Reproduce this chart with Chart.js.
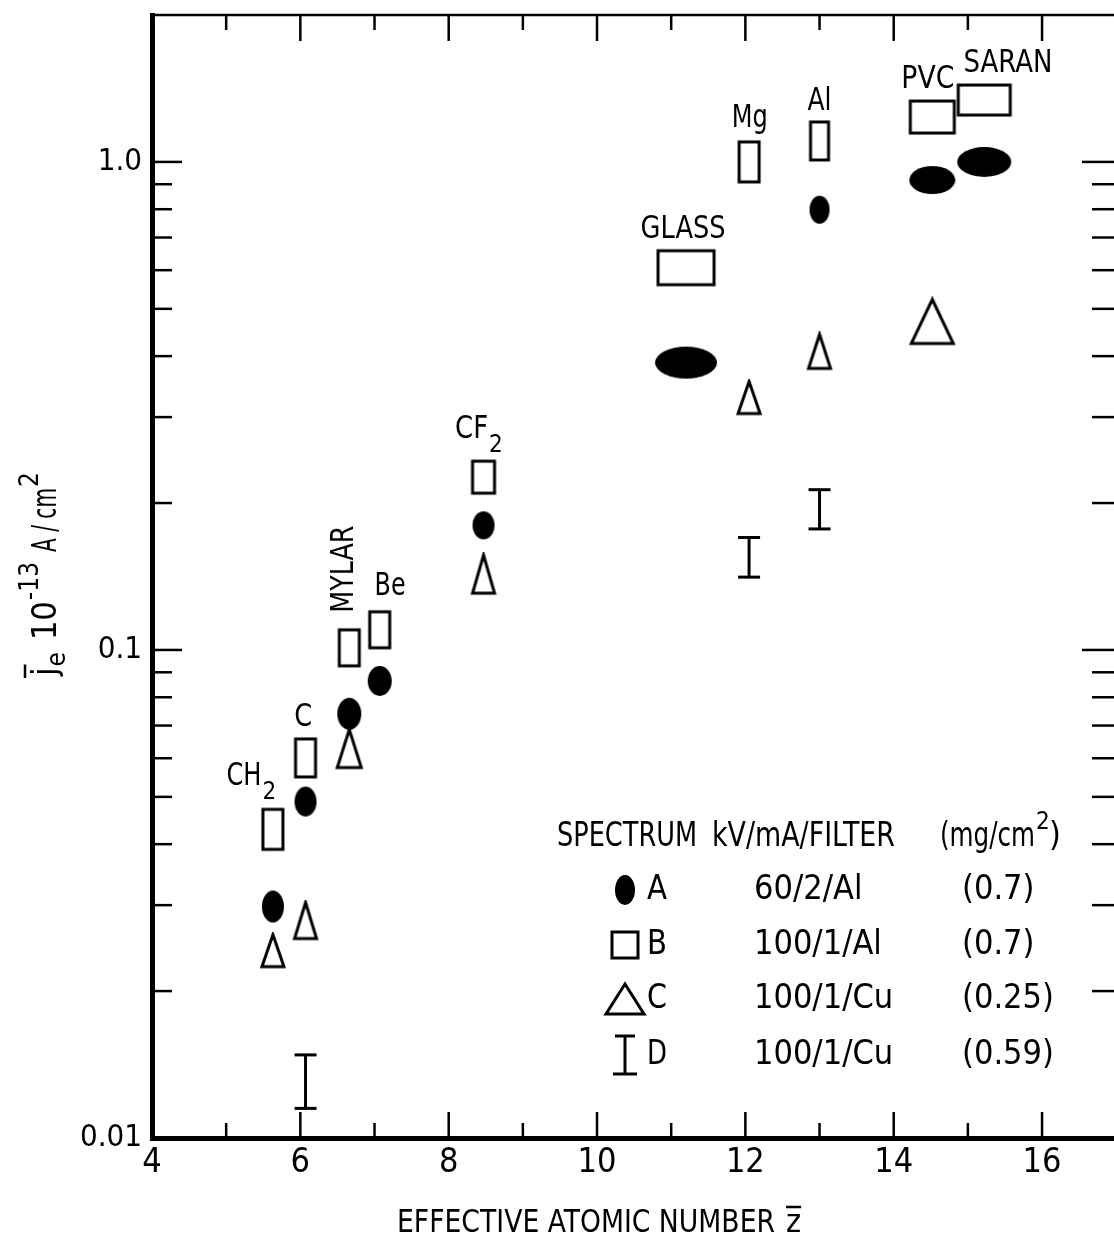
<!DOCTYPE html>
<html>
<head>
<meta charset="utf-8">
<script src="https://cdn.jsdelivr.net/npm/chart.js@4.4.0/dist/chart.umd.min.js"></script>
<style>
  html, body { margin: 0; padding: 0; background: #fff; overflow: hidden; }
  canvas { display: block; }
</style>
</head>
<body>
<canvas id="chart" width="1114" height="1235"></canvas>
<script>
const FONT = '"Liberation Sans Narrow", "DejaVu Sans Condensed", "Open Sans", sans-serif';

// materials and their effective atomic number
const materials = ['CH2', 'C', 'MYLAR', 'Be', 'CF2', 'GLASS', 'Mg', 'Al', 'PVC', 'SARAN'];
const zEff = [5.63, 6.07, 6.66, 7.07, 8.47, 11.2, 12.05, 13.0, 14.52, 15.22];

// mean emission current density, 10^-13 A/cm2 (null = not measured)
const spectrumA = [0.0298, 0.0489, 0.0740, 0.0864, 0.180, 0.388, null, 0.798, 0.918, 1.0];
const spectrumB = [0.0429, 0.0601, 0.101, 0.110, 0.226, 0.607, 1.0, 1.104, 1.236, 1.339];
const spectrumC = [0.0242, 0.0279, 0.0628, null, 0.143, null, 0.329, 0.409, 0.471, null];
const spectrumDLow = [null, 0.0115, null, null, null, null, 0.141, 0.177, null, null];
const spectrumDHigh = [null, 0.0148, null, null, null, null, 0.170, 0.213, null, null];

// axis ticks
const xTickValues = [4, 6, 8, 10, 12, 14, 16];
const yTickValues = [0.01, 0.1, 1];
const yTickLabels = ['0.01', '0.1', '1.0'];

// legend rows
const legendKeys = ['A', 'B', 'C', 'D'];
const legendKv = ['60/2/Al', '100/1/Al', '100/1/Cu', '100/1/Cu'];
const legendFilter = ['(0.7)', '(0.7)', '(0.25)', '(0.59)'];

// marker sizes [w, h] per material (style only)
const sizeA = [[22,32],[22,30],[24,32],[24,30],[22,28],[62,32],null,[20,28],[46,28],[54,30]];
const sizeB = [[20,40],[20,38],[20,36],[20,36],[22,32],[56,34],[20,40],[18,38],[44,32],[52,30]];
const sizeC = [[22,32],[22,36],[24,38],null,[22,38],null,[22,32],[22,34],[42,44],null];

// label anchors in data units [z, value] and text widths in px
const labelAt = [[5.32,0.0559],[6.04,0.0726],[6.60,0.1464],[7.21,0.1351],[8.39,0.287],
                 [11.16,0.726],[12.06,1.224],[13.0,1.327],[14.46,1.472],[15.54,1.586]];
const labelWidth = [35, 18, 87, 31, 33, 85, 36, 24, 53, 89];

function markerCanvas(kind, w, h) {
  const pad = 3;
  const c = document.createElement('canvas');
  c.width = w + pad * 2;
  c.height = h + pad * 2;
  const g = c.getContext('2d');
  g.strokeStyle = '#000';
  g.fillStyle = '#000';
  g.lineWidth = 3;
  if (kind === 'dot') {
    g.beginPath();
    g.ellipse(c.width / 2, c.height / 2, w / 2, h / 2, 0, 0, Math.PI * 2);
    g.fill();
  } else if (kind === 'box') {
    g.strokeRect(pad, pad, w, h);
  } else if (kind === 'tri') {
    g.beginPath();
    g.moveTo(c.width / 2, pad);
    g.lineTo(pad + w, pad + h);
    g.lineTo(pad, pad + h);
    g.closePath();
    g.stroke();
  }
  return c;
}

function series(values, sizes, kind) {
  const pts = [], styles = [];
  values.forEach((v, i) => {
    if (v == null) return;
    pts.push({x: zEff[i], y: v});
    styles.push(markerCanvas(kind, sizes[i][0], sizes[i][1]));
  });
  return {data: pts, pointStyle: styles, pointRadius: 10, showLine: false};
}

const errorBars = [];
spectrumDLow.forEach((lo, i) => {
  if (lo == null) return;
  errorBars.push({
    data: [{x: zEff[i], y: lo}, {x: zEff[i], y: spectrumDHigh[i]}],
    showLine: true,
    borderColor: '#000',
    borderWidth: 3,
    pointStyle: 'line',
    pointRadius: 11,
    pointBorderWidth: 3,
    pointBorderColor: '#000'
  });
});

function lineSeg(ctx, x1, y1, x2, y2) {
  ctx.beginPath();
  ctx.moveTo(x1, y1);
  ctx.lineTo(x2, y2);
  ctx.stroke();
}

function put(ctx, text, x, y, size, maxW) {
  ctx.font = size + 'px ' + FONT;
  if (maxW) ctx.fillText(text, x, y, maxW);
  else ctx.fillText(text, x, y);
  const w = ctx.measureText(text).width;
  return maxW ? Math.min(w, maxW) : w;
}

// inward tick marks, top spine and x tick labels
const frame = {
  id: 'frame',
  afterDraw(chart) {
    const {ctx, chartArea: a, scales: {x, y}} = chart;
    ctx.save();
    ctx.strokeStyle = '#000';
    ctx.fillStyle = '#000';
    ctx.lineWidth = 2.5;
    lineSeg(ctx, a.left, a.top, a.right, a.top);
    for (let v = 5; v <= 16; v++) {
      const px = x.getPixelForValue(v);
      const len = v % 2 === 0 ? 26 : 15;
      lineSeg(ctx, px, a.bottom, px, a.bottom - len);
      lineSeg(ctx, px, a.top, px, a.top + len);
    }
    for (let d = -2; d <= 0; d++) {
      for (let m = 1; m <= 9; m++) {
        const v = m * Math.pow(10, d);
        if (v <= y.min || v >= y.max) continue;
        const py = y.getPixelForValue(v);
        const len = m === 1 ? 30 : 20;
        lineSeg(ctx, a.left, py, a.left + len, py);
        lineSeg(ctx, a.right, py, a.right - len - 2, py);
      }
    }
    ctx.textAlign = 'center';
    ctx.textBaseline = 'top';
    xTickValues.forEach(v => put(ctx, String(v), x.getPixelForValue(v), a.bottom + 8, 34));
    ctx.restore();
  }
};

const annotations = {
  id: 'annotations',
  afterDraw(chart) {
    const {ctx, scales: {x, y}} = chart;
    ctx.save();
    ctx.fillStyle = '#000';
    ctx.strokeStyle = '#000';

    // material labels
    materials.forEach((m, i) => {
      const px = x.getPixelForValue(labelAt[i][0]);
      const py = y.getPixelForValue(labelAt[i][1]);
      const w = labelWidth[i];
      if (m === 'CH2' || m === 'CF2') {
        ctx.textAlign = 'left';
        ctx.textBaseline = 'alphabetic';
        const left = px - (w + 12) / 2;
        const mw = put(ctx, m.slice(0, 2), left, py + 12, 32, w);
        put(ctx, '2', left + mw + 1, py + 26, 24);
      } else if (m === 'MYLAR') {
        ctx.save();
        ctx.translate(px, py);
        ctx.rotate(-Math.PI / 2);
        ctx.textAlign = 'center';
        ctx.textBaseline = 'middle';
        put(ctx, m, 0, 0, 32, w);
        ctx.restore();
      } else {
        ctx.textAlign = 'center';
        ctx.textBaseline = 'middle';
        put(ctx, m, px, py, 32, w);
      }
    });

    // legend block
    ctx.textAlign = 'left';
    ctx.textBaseline = 'alphabetic';
    put(ctx, 'SPECTRUM', 557, 846, 34, 140);
    put(ctx, 'kV/mA/FILTER', 712, 846, 34, 183);
    const pw = put(ctx, '(mg/cm', 940, 846, 34, 95);
    put(ctx, '2', 940 + pw + 1, 829, 24);
    put(ctx, ')', 940 + pw + 14, 846, 34);

    const rowY = [890, 945, 999, 1055];
    const sym = [markerCanvas('dot', 20, 30), markerCanvas('box', 26, 26), markerCanvas('tri', 38, 30)];
    legendKeys.forEach((k, i) => {
      const yy = rowY[i];
      if (i < 3) {
        const c = sym[i];
        ctx.drawImage(c, 625 - c.width / 2, yy - c.height / 2);
      } else {
        ctx.lineWidth = 3;
        lineSeg(ctx, 625, yy - 19, 625, yy + 19);
        lineSeg(ctx, 615, yy - 19, 635, yy - 19);
        lineSeg(ctx, 613, yy + 19, 637, yy + 19);
      }
      ctx.textBaseline = 'middle';
      put(ctx, k, 647, yy, 34, 20);
      put(ctx, legendKv[i], 754, yy, 34);
      put(ctx, legendFilter[i], 962, yy, 34);
    });

    // x axis title
    ctx.textBaseline = 'alphabetic';
    const tw = put(ctx, 'EFFECTIVE ATOMIC NUMBER', 397, 1232, 32, 378);
    const zx = 397 + tw + 11;
    const zw = put(ctx, 'z', zx, 1232, 32);
    ctx.lineWidth = 2.5;
    lineSeg(ctx, zx, 1207, zx + zw, 1207);

    // y axis title, rotated
    ctx.save();
    ctx.translate(56, 676);
    ctx.rotate(-Math.PI / 2);
    let cx = 0;
    const jw = put(ctx, 'j', cx, 0, 34);
    ctx.lineWidth = 2.5;
    lineSeg(ctx, cx - 2, -31, cx + jw + 3, -31);
    cx += jw + 1;
    cx += put(ctx, 'e', cx, 9, 26) + 12;
    cx += put(ctx, '10', cx, 0, 34) + 1;
    cx += put(ctx, '-13', cx, -18, 26) + 10;
    cx += put(ctx, 'A / cm', cx, 0, 34, 64) + 1;
    put(ctx, '2', cx, -18, 26);
    ctx.restore();

    ctx.restore();
  }
};

const ctx = document.getElementById('chart').getContext('2d');
const myChart = new Chart(ctx, {
  type: 'scatter',
  data: {
    datasets: [
      series(spectrumA, sizeA, 'dot'),
      series(spectrumB, sizeB, 'box'),
      series(spectrumC, sizeC, 'tri'),
      ...errorBars
    ]
  },
  options: {
    responsive: false,
    animation: false,
    layout: { autoPadding: false, padding: { top: 15, right: 0, bottom: 0, left: 0 } },
    plugins: {
      legend: { display: false },
      tooltip: { enabled: false }
    },
    scales: {
      x: {
        type: 'linear',
        min: 4,
        max: 16.97,
        afterBuildTicks: s => { s.ticks = xTickValues.map(v => ({value: v})); },
        afterFit: s => { s.height = 97; s.paddingLeft = 0; s.paddingRight = 0; },
        ticks: { display: false },
        grid: { display: false },
        border: { display: true, color: '#000', width: 5 }
      },
      y: {
        type: 'logarithmic',
        min: 0.01,
        max: 2.0,
        afterBuildTicks: s => { s.ticks = yTickValues.map(v => ({value: v})); },
        afterFit: s => { s.width = 152; s.paddingTop = 0; s.paddingBottom = 0; },
        ticks: {
          color: '#000',
          font: { family: FONT, size: 31 },
          padding: 2,
          autoSkip: false,
          callback: v => yTickLabels[yTickValues.indexOf(v)]
        },
        grid: { display: false },
        border: { display: true, color: '#000', width: 5 }
      }
    }
  },
  plugins: [frame, annotations]
});
</script>
</body>
</html>
